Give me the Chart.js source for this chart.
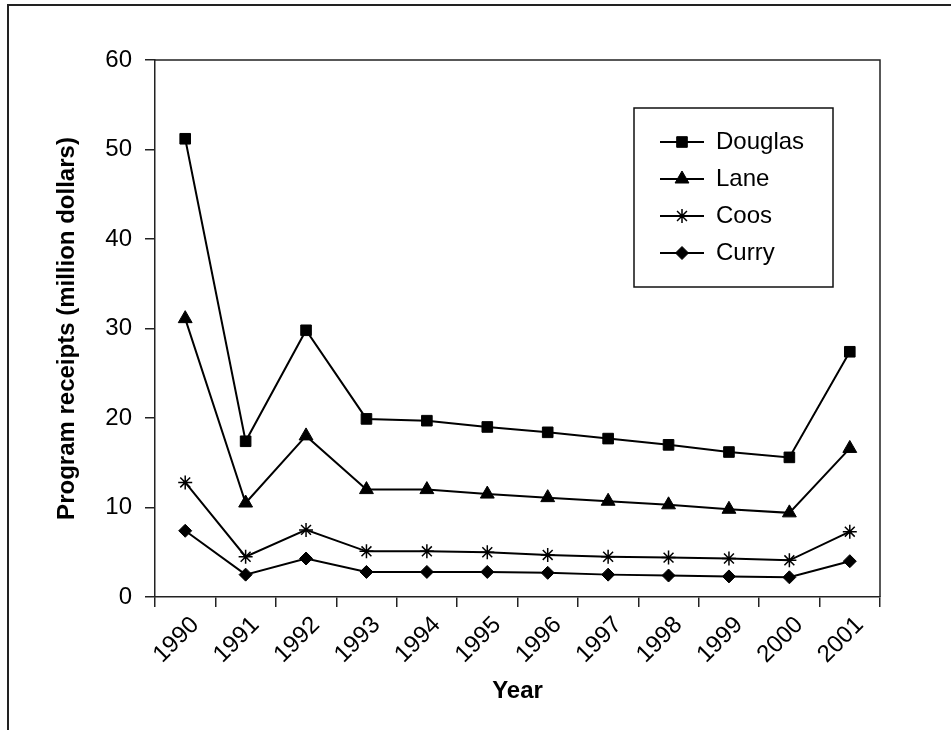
<!DOCTYPE html>
<html>
<head>
<meta charset="utf-8">
<script src="https://cdn.jsdelivr.net/npm/chart.js@4"></script>
<style>
  html, body { margin: 0; padding: 0; background: #fff; overflow: hidden; }
  #wrap { position: relative; width: 951px; height: 730px; }
  #frame { position: absolute; left: 7px; top: 4px; width: 960px; height: 740px;
           border-top: 2px solid #222; border-left: 2px solid #222; }
  canvas { position: absolute; left: 0; top: 0; }
</style>
</head>
<body>
<div id="wrap">
  <div id="frame"></div>
  <canvas id="chart" width="951" height="730"></canvas>
</div>
<script>
// values (million dollars)
const years = ['1990', '1991', '1992', '1993', '1994', '1995', '1996', '1997', '1998', '1999', '2000', '2001'];
const douglas = [51.2, 17.4, 29.8, 19.9, 19.7, 19.0, 18.4, 17.7, 17.0, 16.2, 15.6, 27.4];
const lane = [31.1, 10.5, 18.0, 12.0, 12.0, 11.5, 11.1, 10.7, 10.3, 9.8, 9.4, 16.6];
const coos = [12.8, 4.5, 7.5, 5.1, 5.1, 5.0, 4.7, 4.5, 4.4, 4.3, 4.1, 7.3];
const curry = [7.4, 2.5, 4.3, 2.8, 2.8, 2.8, 2.7, 2.5, 2.4, 2.3, 2.2, 4.0];

const FONT = "'Liberation Sans', Arial, Helvetica, sans-serif";
const SIZE = 24;
const axisColor = '#222';
Chart.defaults.font.family = FONT;
Chart.defaults.color = '#000';

const series = [
  { label: 'Douglas', data: douglas, style: 'rect', radius: 7.5, bw: 1 },
  { label: 'Lane', data: lane, style: 'triangle', radius: 8, bw: 1 },
  { label: 'Coos', data: coos, style: 'star', radius: 7, bw: 1.5 },
  { label: 'Curry', data: curry, style: 'rectRot', radius: 6.5, bw: 1 },
];

// small line + marker picture for each legend entry
function legendIcon(s) {
  const c = document.createElement('canvas');
  c.width = 44; c.height = 20;
  const g = c.getContext('2d');
  g.strokeStyle = '#000';
  g.lineWidth = 2;
  g.beginPath(); g.moveTo(0, 10); g.lineTo(44, 10); g.stroke();
  g.fillStyle = '#000';
  g.lineWidth = s.bw;
  Chart.helpers.drawPoint(g, { pointStyle: s.style, radius: s.radius, rotation: 0, borderWidth: s.bw }, 22, 10);
  return c;
}

const frames = {
  id: 'frames',
  afterLayout(chart) {
    const lg = chart.legend;
    lg.left = 647; lg.top = 117; lg.right = 833; lg.bottom = 287;
    lg.width = lg.right - lg.left; lg.height = lg.bottom - lg.top;
  },
  afterDraw(chart) {
    const { ctx, chartArea: a } = chart;
    ctx.save();
    ctx.strokeStyle = axisColor;
    ctx.lineWidth = 1.5;
    ctx.beginPath();
    ctx.moveTo(a.left, a.top); ctx.lineTo(a.right, a.top); ctx.lineTo(a.right, a.bottom);
    ctx.stroke();
    ctx.strokeStyle = '#111';
    ctx.strokeRect(634, 108, 199, 179);
    ctx.restore();
  },
};

new Chart(document.getElementById('chart'), {
  type: 'line',
  data: {
    labels: years,
    datasets: series.map(s => ({
      label: s.label,
      data: s.data,
      borderColor: '#000',
      backgroundColor: '#000',
      borderWidth: 2,
      tension: 0,
      pointStyle: s.style,
      pointRadius: s.radius,
      pointBorderWidth: s.bw,
      pointBackgroundColor: '#000',
      pointBorderColor: '#000',
    })),
  },
  options: {
    responsive: false,
    animation: false,
    devicePixelRatio: 1,
    layout: { padding: { top: 60, right: 71, left: 0, bottom: 0 } },
    plugins: {
      tooltip: { enabled: false },
      legend: {
        position: 'chartArea',
        align: 'start',
        labels: {
          usePointStyle: true,
          pointStyleWidth: 44,
          padding: 13,
          color: '#000',
          font: { size: SIZE },
          generateLabels: chart => chart.data.datasets.map((ds, i) => ({
            text: ds.label,
            datasetIndex: i,
            pointStyle: legendIcon(series[i]),
            fillStyle: '#000',
            strokeStyle: '#000',
            lineWidth: 0,
            fontColor: '#000',
            hidden: false,
          })),
        },
      },
    },
    scales: {
      x: {
        offset: true,
        grid: { offset: true, drawOnChartArea: false, tickLength: 10, color: axisColor, lineWidth: 1.5 },
        border: { color: axisColor, width: 1.5 },
        ticks: { autoSkip: false, maxRotation: 45, minRotation: 45, padding: 4, labelOffset: 10, color: '#000', font: { size: SIZE } },
        title: { display: true, text: 'Year', color: '#000', font: { size: SIZE, weight: 'bold' }, padding: { top: 0, bottom: 24 } },
        afterFit: s => { s.height = 133; },
      },
      y: {
        min: 0,
        max: 60,
        grid: { drawOnChartArea: false, tickLength: 10, color: axisColor, lineWidth: 1.5 },
        border: { color: axisColor, width: 1.5 },
        ticks: { stepSize: 10, padding: 13, color: '#000', font: { size: SIZE } },
        title: { display: true, text: 'Program receipts (million dollars)', color: '#000', font: { size: SIZE, weight: 'bold' }, padding: { top: 53, bottom: 0 } },
        afterFit: s => { s.width = 155; },
      },
    },
  },
  plugins: [frames],
});
</script>
</body>
</html>
